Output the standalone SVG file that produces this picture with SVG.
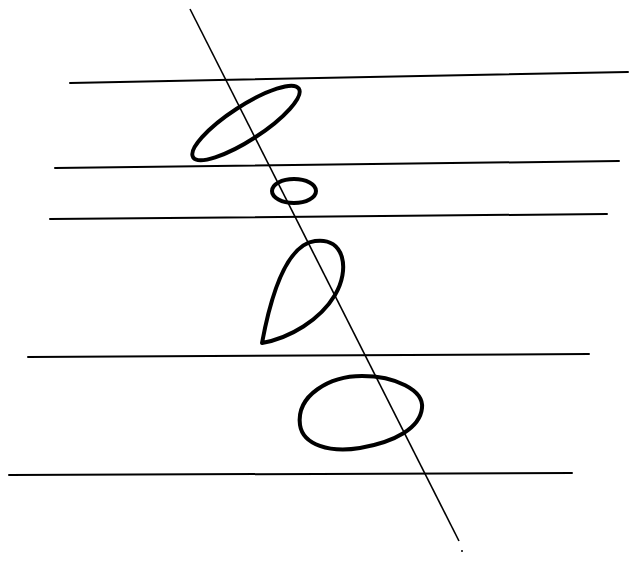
<svg xmlns="http://www.w3.org/2000/svg" width="629" height="561" viewBox="0 0 629 561">
<style>
.h{stroke:#000;stroke-width:2;fill:none;stroke-linecap:round}
.d{stroke:#000;stroke-width:1.6;fill:none}
.s{stroke:#000;stroke-width:4;fill:none;stroke-linejoin:round}
</style>
<rect width="629" height="561" fill="#fff"/>
<g id="lines">
<line class="h" x1="70" y1="83" x2="628" y2="72"/>
<line class="h" x1="55" y1="168" x2="619" y2="161"/>
<line class="h" x1="50" y1="219" x2="607" y2="214"/>
<line class="h" x1="28" y1="357" x2="589" y2="354"/>
<line class="h" x1="9" y1="475" x2="572" y2="473"/>
<line class="d" x1="190" y1="9" x2="459" y2="541"/>
<circle cx="462" cy="551" r="1" fill="#000"/>
</g>
<g id="shapes">
<ellipse class="s" cx="246" cy="123" rx="63" ry="17" transform="rotate(-33 246 123)"/>
<ellipse class="s" cx="294" cy="191" rx="22" ry="12"/>
<path class="s" d="M262,343 C270,300 285,245 315,241 C345,237 350,270 335,295 C320,320 290,338 262,343 Z"/>
<path class="s" d="M300,425 C296,395 330,376 362,376 C395,376 424,390 422,408 C420,428 395,442 360,448 C330,453 303,445 300,425 Z"/>
</g>
</svg>
